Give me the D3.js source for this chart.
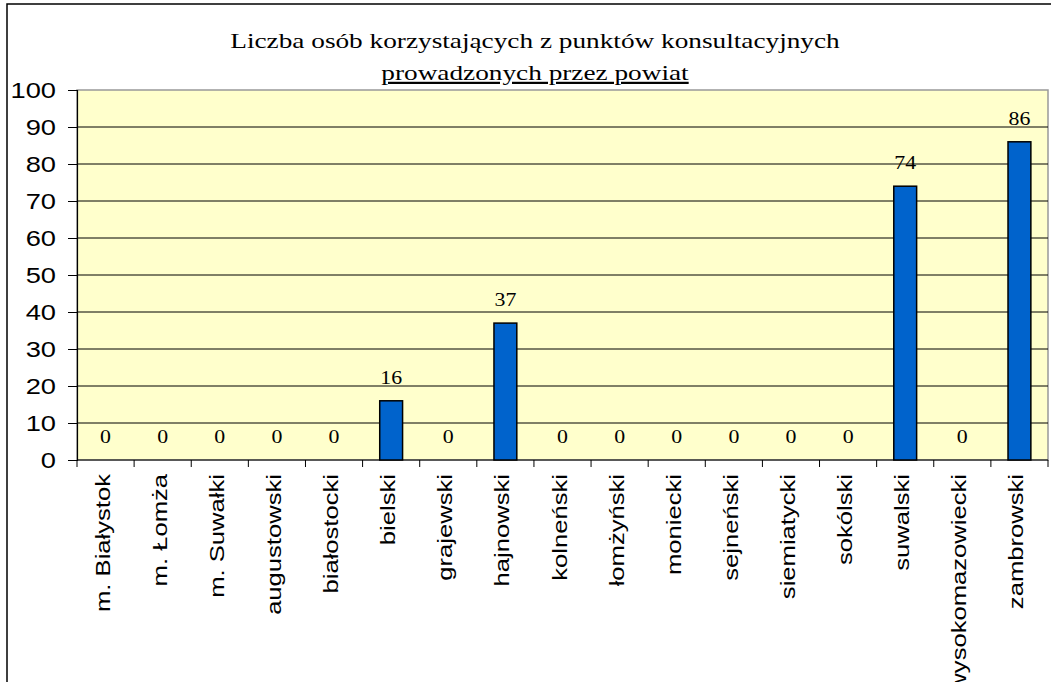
<!DOCTYPE html>
<meta charset="utf-8">
<script src="https://d3js.org/d3.v7.min.js"></script>
<style>
  body { margin: 0; background: #fff; }
</style>
<body>
<div id="chart"></div>
</body>
<script>
    const categories = ["m. Białystok", "m. Łomża", "m. Suwałki", "augustowski", "białostocki",
        "bielski", "grajewski", "hajnowski", "kolneński", "łomżyński", "moniecki", "sejneński",
        "siemiatycki", "sokólski", "suwalski", "wysokomazowiecki", "zambrowski"];
    const values = [0, 0, 0, 0, 0, 16, 0, 37, 0, 0, 0, 0, 0, 0, 74, 0, 86];
    const yTicks = [0, 10, 20, 30, 40, 50, 60, 70, 80, 90, 100];
    const titleLines = ["Liczba osób korzystających z punktów konsultacyjnych", "prowadzonych przez powiat"];

    const W = 1051, H = 682;
    const margin = {top: 90, right: 3, bottom: 222, left: 77};
    const width = W - margin.left - margin.right,
        height = H - margin.top - margin.bottom;
    // the original picture is a bit wider than tall, so text is stretched sideways
    const stretch = 1.24;

    const root = d3.select("#chart").append("svg")
        .attr("width", W)
        .attr("height", H);

    // outer chart frame
    root.append("rect")
        .attr("x", 7).attr("y", 4)
        .attr("width", W + 10).attr("height", H + 10)
        .attr("fill", "none")
        .attr("stroke", "#000")
        .attr("stroke-width", 1.5);

    const svg = root.append("g")
        .attr("transform", "translate(" + margin.left + "," + margin.top + ")");

    const x = d3.scaleBand()
        .domain(categories)
        .range([0, width])
        .paddingInner(0.6)
        .paddingOuter(0.3);

    const xTicks = d3.scaleBand().domain(categories).range([0, width]);

    const y = d3.scaleLinear()
        .domain([0, 100])
        .range([height, 0]);

    // plot background
    svg.append("rect")
        .attr("width", width).attr("height", height)
        .attr("fill", "#FFFFCC")
        .attr("stroke", "#999")
        .attr("stroke-width", 1.5);

    // gridlines
    svg.append("g")
        .selectAll("line")
        .data(yTicks.filter(d => d > 0 && d < 100))
        .enter().append("line")
        .attr("x1", 0).attr("x2", width)
        .attr("y1", d => y(d)).attr("y2", d => y(d))
        .attr("stroke", "#000")
        .attr("stroke-width", 1);

    // y axis
    const yAxis = svg.append("g")
        .call(d3.axisLeft(y).tickValues(yTicks).tickSize(9));
    yAxis.selectAll("text")
        .attr("x", 0)
        .attr("transform", "translate(-21,0) scale(" + stretch + ",1)")
        .style("font-family", "'Liberation Sans', Arial, sans-serif")
        .style("font-size", "22px")
        .attr("fill", "#000");
    yAxis.select(".domain").attr("stroke", "#000").attr("stroke-width", 1.2);

    // x axis ticks at band boundaries
    const xAxis = svg.append("g")
        .attr("transform", "translate(0," + height + ")");
    xAxis.append("line")
        .attr("x1", 0).attr("x2", width)
        .attr("stroke", "#000").attr("stroke-width", 1.2);
    xAxis.selectAll(".tk")
        .data(categories.concat(["_end"]))
        .enter().append("line")
        .attr("class", "tk")
        .attr("x1", (d, i) => i * xTicks.step())
        .attr("x2", (d, i) => i * xTicks.step())
        .attr("y1", 0).attr("y2", 7)
        .attr("stroke", "#000");
    xAxis.selectAll(".lbl")
        .data(categories)
        .enter().append("text")
        .attr("class", "lbl")
        .attr("transform", d => "translate(" + (xTicks(d) + xTicks.bandwidth() / 2 + 4) + ",14) rotate(-90) scale(1.28,1)")
        .attr("text-anchor", "end")
        .style("font-family", "'Liberation Sans', Arial, sans-serif")
        .style("font-size", "20px")
        .text(d => d);

    // bars
    svg.selectAll(".bar")
        .data(values)
        .enter().append("rect")
        .attr("class", "bar")
        .attr("x", (d, i) => x(categories[i]))
        .attr("y", d => y(d))
        .attr("width", x.bandwidth())
        .attr("height", d => height - y(d))
        .attr("fill", "#0063CC")
        .attr("stroke", "#000")
        .attr("stroke-width", 1.5);

    // value labels
    svg.selectAll(".val")
        .data(values)
        .enter().append("text")
        .attr("class", "val")
        .attr("transform", (d, i) => "translate(" + (x(categories[i]) + x.bandwidth() / 2) + "," + (y(d) - 17) + ") scale(1.15,1)")
        .attr("text-anchor", "middle")
        .style("font-family", "'Liberation Serif', 'Times New Roman', serif")
        .style("font-size", "19px")
        .text(d => d);

    // title
    const title = root.append("g");
    title.selectAll("text")
        .data(titleLines)
        .enter().append("text")
        .attr("transform", (d, i) => "translate(535," + (48 + i * 32) + ") scale(" + stretch + ",1)")
        .attr("text-anchor", "middle")
        .style("font-family", "'Liberation Serif', 'Times New Roman', serif")
        .style("font-size", "22px")
        .style("text-decoration", (d, i) => i === 1 ? "underline" : "none")
        .text(d => d);
</script>
